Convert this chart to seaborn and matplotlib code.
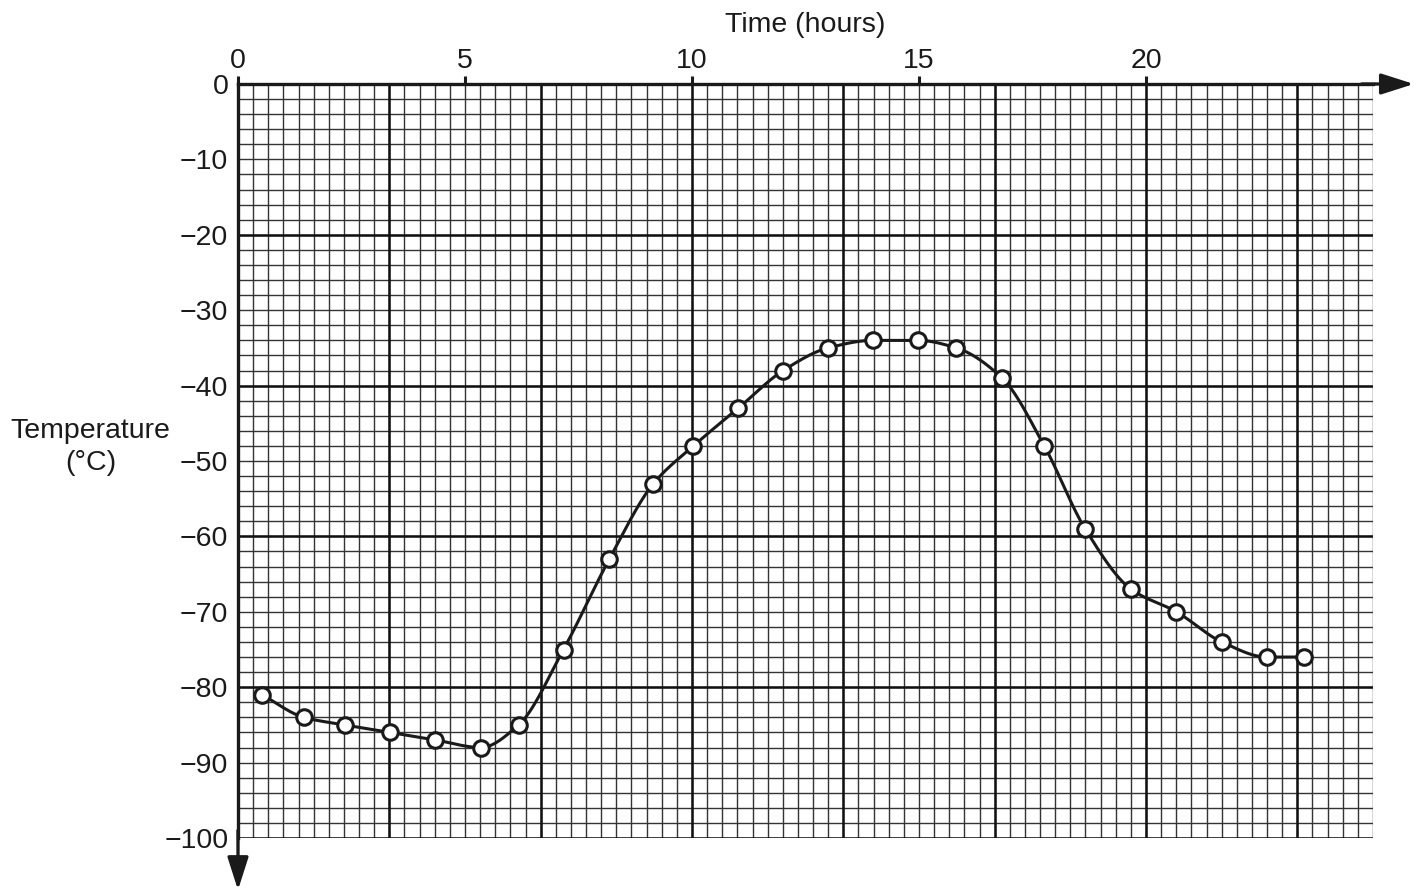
import numpy as np
import matplotlib
matplotlib.use("Agg")
import matplotlib.pyplot as plt
import seaborn as sns
import pandas as pd

# readings taken off the graph paper
hours = [0.53, 1.45, 2.35, 3.35, 4.35, 5.35, 6.18, 7.17, 8.18, 9.15, 10.03, 11.02, 12.01,
         13.0, 13.99, 14.98, 15.82, 16.83, 17.76, 18.66, 19.67, 20.67, 21.67, 22.66, 23.48]
temps = [-81, -84, -85, -86, -87, -88, -85, -75, -63, -53, -48, -43, -38,
         -35, -34, -34, -35, -39, -48, -59, -67, -70, -74, -76, -76]
x_ticks = [0, 5, 10, 15, 20]
y_ticks = list(range(0, -101, -10))


def smooth_curve(x, y, n=30):
    # monotone cubic (pchip) through the plotted points, just for drawing the line
    x = np.asarray(x, float)
    y = np.asarray(y, float)
    h = np.diff(x)
    d = np.diff(y) / h
    m = np.zeros_like(y)
    for k in range(1, len(x) - 1):
        if d[k - 1] * d[k] > 0:
            w1 = 2 * h[k] + h[k - 1]
            w2 = h[k] + 2 * h[k - 1]
            m[k] = (w1 + w2) / (w1 / d[k - 1] + w2 / d[k])
    m[0] = d[0]
    m[-1] = d[-1]
    xs, ys = [], []
    t = np.linspace(0, 1, n, endpoint=False)
    for k in range(len(x) - 1):
        h00 = 2 * t**3 - 3 * t**2 + 1
        h10 = t**3 - 2 * t**2 + t
        h01 = -2 * t**3 + 3 * t**2
        h11 = t**3 - t**2
        xs.append(x[k] + t * h[k])
        ys.append(h00 * y[k] + h10 * h[k] * m[k] + h01 * y[k + 1] + h11 * h[k] * m[k + 1])
    xs.append([x[-1]])
    ys.append([y[-1]])
    return np.concatenate(xs), np.concatenate(ys)


sns.set_style("white")
plt.rcParams['font.family'] = ['Liberation Sans', 'DejaVu Sans']

fig = plt.figure(figsize=(14.25, 8.91), dpi=100)
ax = fig.add_axes([238 / 1425, 1 - 838 / 891, (1373 - 238) / 1425, (838 - 84) / 891])
ax.set_xlim(0, 25)
ax.set_ylim(-100, 0)

# graph paper
ax.vlines(np.arange(0, 25.01, 1 / 3), -100, 0, color='#333333', lw=1.0, zorder=1)
ax.hlines(np.arange(-100, 0.01, 2), 0, 25, color='#333333', lw=1.0, zorder=1)
ax.vlines(np.arange(0, 25.01, 10 / 3), -100, 0, color='#111111', lw=1.8, zorder=1.5)
ax.hlines(np.arange(-100, 0.01, 20), 0, 25, color='#111111', lw=1.8, zorder=1.5)

sx, sy = smooth_curve(hours, temps)
curve = pd.DataFrame({'hours': sx, 'temp': sy})
pts = pd.DataFrame({'hours': hours, 'temp': temps})
sns.lineplot(data=curve, x='hours', y='temp', ax=ax, color='#1a1a1a', lw=2.2,
             estimator=None, sort=False, zorder=3)
sns.scatterplot(data=pts, x='hours', y='temp', ax=ax, s=125, color='white',
                edgecolor='#1a1a1a', linewidth=2.2, zorder=4)

for side in ['right', 'bottom']:
    ax.spines[side].set_visible(False)
for side in ['left', 'top']:
    ax.spines[side].set_linewidth(2.4)
    ax.spines[side].set_color('#1a1a1a')
    ax.spines[side].set_zorder(5)

# arrow heads on the two axes
arrow = dict(arrowstyle='-|>,head_length=1.0,head_width=0.32', mutation_scale=20,
             lw=2.4, color='#1a1a1a', shrinkA=0, shrinkB=0)
ax.annotate('', xy=(1.036, 1.0), xytext=(0.99, 1.0), xycoords='axes fraction',
            arrowprops=arrow, annotation_clip=False)
ax.annotate('', xy=(0.0, -0.069), xytext=(0.0, 0.01), xycoords='axes fraction',
            arrowprops=arrow, annotation_clip=False)

ax.xaxis.tick_top()
ax.xaxis.set_label_position('top')
ax.set_xticks(x_ticks)
ax.set_yticks(y_ticks)
ax.tick_params(axis='both', direction='out', length=6, width=2.2, color='#1a1a1a',
               labelsize=20.5, labelcolor='#1a1a1a', pad=1)
ax.set_xlabel('Time (hours)', fontsize=20.5, labelpad=12, color='#1a1a1a')
ax.set_ylabel('Temperature\n(°C)', fontsize=20.5, rotation=0, ha='center', va='center',
              color='#1a1a1a', linespacing=1.3)
ax.yaxis.set_label_coords(-0.130, 0.519)

fig.savefig('out.png', dpi=100)
